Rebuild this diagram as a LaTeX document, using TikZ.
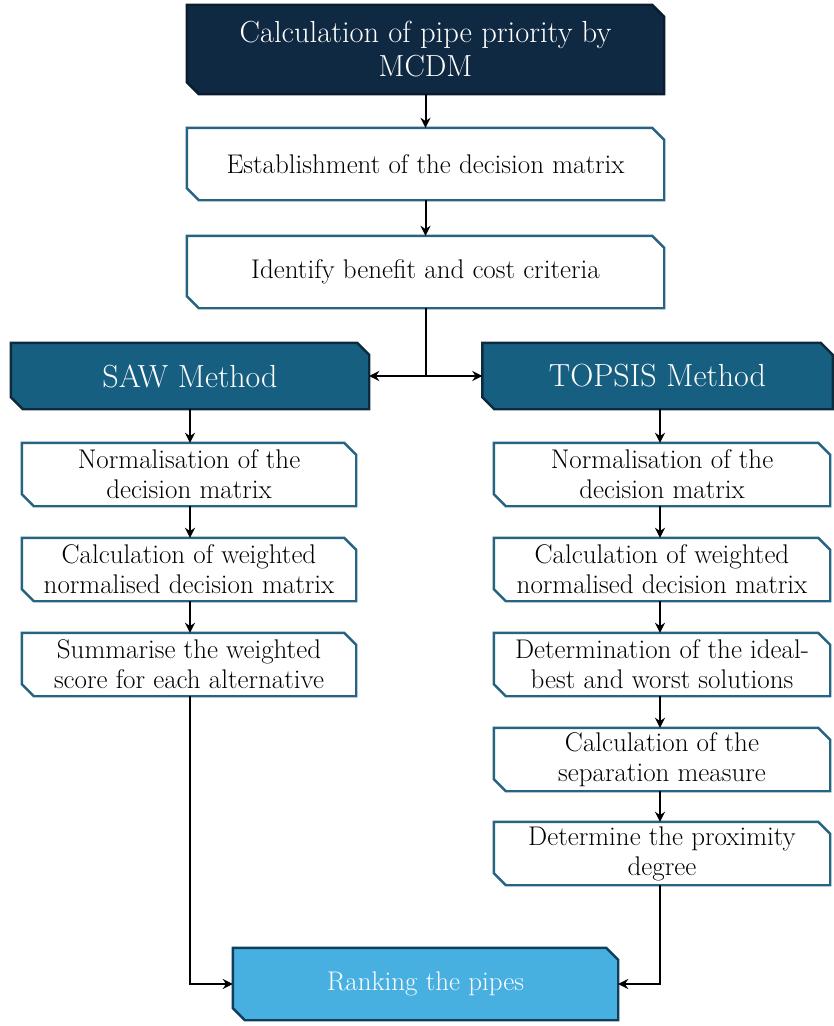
\documentclass[tikz,border=0pt]{standalone}
\usetikzlibrary{arrows.meta,backgrounds}
\definecolor{navy}{RGB}{16,41,66}
\definecolor{navyedge}{RGB}{10,28,46}
\definecolor{teal}{RGB}{23,95,128}
\definecolor{tealedge}{RGB}{13,43,60}
\definecolor{stepedge}{RGB}{38,100,130}
\definecolor{skyfill}{RGB}{72,176,224}
\definecolor{skyedge}{RGB}{15,63,94}
\tikzset{
  box/.style={rectangle, inner sep=0pt, align=center},
  titlebox/.style={box, text=white, font=\fontsize{30.5}{34}\selectfont,
    minimum width=477pt, minimum height=89pt},
  mainstep/.style={box, text=black, font=\fontsize{27}{30}\selectfont,
    minimum width=477pt, minimum height=72pt},
  method/.style={box, text=white, font=\fontsize{32}{36}\selectfont, minimum height=66pt},
  substep/.style={box, text=black, font=\fontsize{27}{30}\selectfont, minimum height=63pt},
  resultbox/.style={box, text=white, font=\fontsize{27}{30}\selectfont,
    minimum width=385pt, minimum height=72pt},
  titleshape/.style={fill=navy, draw=navyedge, line width=2.4pt},
  stepshape/.style={fill=white, draw=stepedge, line width=2.4pt},
  methodshape/.style={fill=teal, draw=tealedge, line width=2.4pt},
  resultshape/.style={fill=skyfill, draw=skyedge, line width=2.4pt},
  arr/.style={line width=2pt, draw=black, -{Stealth[length=10pt,width=10pt]}}
}
% outline with the north-east and south-west corners cut off
\newcommand\cutoutline[2]{%
  \begin{pgfonlayer}{background}
    \path[#2] (#1.north west) -- ([xshift=-12pt]#1.north east)
      -- ([yshift=-12pt]#1.north east) -- (#1.south east)
      -- ([xshift=12pt]#1.south west) -- ([yshift=12pt]#1.south west) -- cycle;
  \end{pgfonlayer}}
\begin{document}
\begin{tikzpicture}[x=1pt,y=-1pt]
\useasboundingbox (0,0) rectangle (834,1026);

% central chain
\node[titlebox] (title) at (425.5,49.5) {Calculation of pipe priority by\\MCDM};
\node[mainstep] (est) at (425.5,164) {Establishment of the decision matrix};
\node[mainstep] (ident) at (425.5,272) {Identify benefit and cost criteria};

% the two methods
\node[method, minimum width=358pt] (saw) at (190,376) {SAW Method};
\node[method, minimum width=350pt] (topsis) at (657.5,376) {TOPSIS Method};

% SAW steps
\node[substep, minimum width=334pt] (s1) at (189,474.5) {Normalisation of the\\decision matrix};
\node[substep, minimum width=334pt] (s2) at (189,569.5) {Calculation of weighted\\normalised decision matrix};
\node[substep, minimum width=334pt] (s3) at (189,664.5) {Summarise the weighted\\score for each alternative};

% TOPSIS steps
\node[substep, minimum width=336pt] (t1) at (662,474.5) {Normalisation of the\\decision matrix};
\node[substep, minimum width=336pt] (t2) at (662,569.5) {Calculation of weighted\\normalised decision matrix};
\node[substep, minimum width=336pt] (t3) at (662,664.5) {Determination of the ideal-\\best and worst solutions};
\node[substep, minimum width=336pt] (t4) at (662,759.5) {Calculation of the\\separation measure};
\node[substep, minimum width=336pt] (t5) at (662,853.5) {Determine the proximity\\degree};

% final ranking
\node[resultbox] (rank) at (425.5,984) {Ranking the pipes};

% box outlines
\cutoutline{title}{titleshape}
\foreach \n in {est,ident,s1,s2,s3,t1,t2,t3,t4,t5} {\cutoutline{\n}{stepshape}}
\cutoutline{saw}{methodshape}
\cutoutline{topsis}{methodshape}
\cutoutline{rank}{resultshape}

% connectors
\draw[arr] (title.south) -- (est.north);
\draw[arr] (est.south) -- (ident.north);
\draw[arr] (ident.south) |- (saw.east);
\draw[arr] (ident.south) |- (topsis.west);

\draw[arr] (saw.south) -- (saw.south |- s1.north);
\draw[arr] (s1.south -| saw.south) -- (saw.south |- s2.north);
\draw[arr] (s2.south -| saw.south) -- (saw.south |- s3.north);

\coordinate (rx) at (660,0);
\draw[arr] (topsis.south -| rx) -- (rx |- t1.north);
\draw[arr] (t1.south -| rx) -- (rx |- t2.north);
\draw[arr] (t2.south -| rx) -- (rx |- t3.north);
\draw[arr] (t3.south -| rx) -- (rx |- t4.north);
\draw[arr] (t4.south -| rx) -- (rx |- t5.north);

\draw[arr] (s3.south -| saw.south) |- (rank.west);
\draw[arr] (t5.south -| rx) |- (rank.east);
\end{tikzpicture}
\end{document}
